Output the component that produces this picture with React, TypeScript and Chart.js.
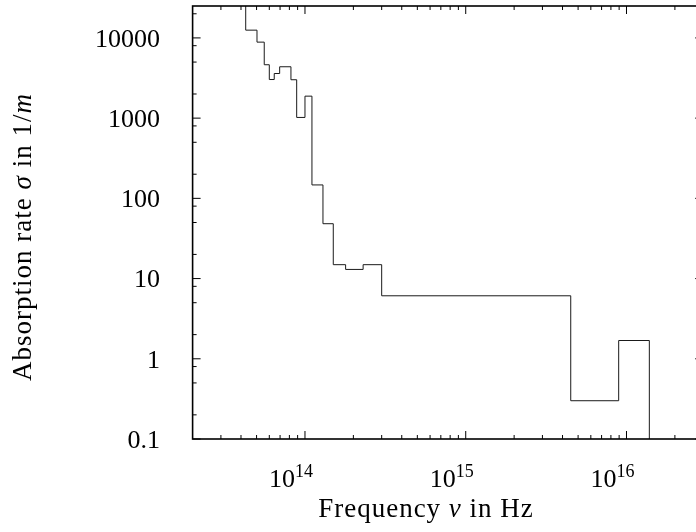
import React, { useEffect, useRef } from "react";
import { Chart, registerables } from "chart.js";

Chart.register(...registerables);

// Bin left edges (Hz); the last entry is the right edge of the last bin
const binEdges = [
  4.28e13, 5.03e13, 5.58e13, 6.0e13, 6.44e13, 6.96e13, 8.18e13, 8.88e13, 1.0e14,
  1.105e14, 1.294e14, 1.5e14, 1.79e14, 2.3e14, 3.0e14, 4.5e15, 8.94e15, 1.387e16,
];
// Absorption rate in each bin (1/m)
const absorption = [
  12500, 8860, 4630, 3030, 3600, 4370, 3010, 1020, 1880, 147, 48.3, 14.9, 13.0, 14.9,
  6.1, 0.3, 1.69,
];
const leadInValue = 1e6; // step enters from above the plotted range
const tailValue = 1e-3; // step drops below the plotted range

const xRange = [2e13, 3e16];
const yRange = [0.1, 25000];
const xMajorTicks = [1e14, 1e15, 1e16];
const xMajorExponents = ["14", "15", "16"];
const xMinorMultipliers = [2, 3, 4, 5, 6, 7, 8, 9];
const yMajorTicks = [0.1, 1, 10, 100, 1000, 10000];
const yMajorLabels = ["0.1", "1", "10", "100", "1000", "10000"];
const yMinorMultipliers = [2, 5, 8];

const SERIF = "'Liberation Serif', 'Times New Roman', serif";
const LABEL_FONT = `26px ${SERIF}`;
const SUP_FONT = `18px ${SERIF}`;
const TITLE_FONT = `27px ${SERIF}`;
const TITLE_ITALIC = `italic 27px ${SERIF}`;

type Run = { text: string; font: string; dy?: number };

function drawRuns(
  ctx: CanvasRenderingContext2D,
  runs: Run[],
  x: number,
  y: number,
  align: "left" | "center" | "right"
) {
  let total = 0;
  const widths = runs.map((r) => {
    ctx.font = r.font;
    const w = ctx.measureText(r.text).width;
    total += w;
    return w;
  });
  let cx = align === "left" ? x : align === "center" ? x - total / 2 : x - total;
  ctx.textAlign = "left";
  runs.forEach((r, i) => {
    ctx.font = r.font;
    ctx.fillText(r.text, cx, y + (r.dy || 0));
    cx += widths[i];
  });
}

function minorValues(min: number, max: number, mults: number[]) {
  const out: number[] = [];
  for (let e = Math.floor(Math.log10(min)) - 1; e <= Math.ceil(Math.log10(max)); e++) {
    mults.forEach((m) => {
      const v = m * Math.pow(10, e);
      if (v > min && v < max) out.push(v);
    });
  }
  return out;
}

const axisPlugin = {
  id: "gnuplotAxes",
  afterDraw(chart: any) {
    const ctx: any = chart.ctx;
    const { left, right, top, bottom } = chart.chartArea;
    const xs = chart.scales.x;
    const ys = chart.scales.y;
    ctx.save();
    ctx.strokeStyle = "#000";
    ctx.fillStyle = "#000";

    // ticks (inward, mirrored)
    ctx.lineWidth = 1;
    const drawX = (v: number, len: number) => {
      const px = xs.getPixelForValue(v);
      ctx.beginPath();
      ctx.moveTo(px, bottom);
      ctx.lineTo(px, bottom - len);
      ctx.moveTo(px, top);
      ctx.lineTo(px, top + len);
      ctx.stroke();
    };
    const drawY = (v: number, len: number) => {
      const py = ys.getPixelForValue(v);
      ctx.beginPath();
      ctx.moveTo(left, py);
      ctx.lineTo(left + len, py);
      ctx.moveTo(right, py);
      ctx.lineTo(right - len, py);
      ctx.stroke();
    };
    minorValues(xRange[0], xRange[1], xMinorMultipliers).forEach((v) => drawX(v, 4));
    xMajorTicks.forEach((v) => drawX(v, 8));
    minorValues(yRange[0], yRange[1], yMinorMultipliers).forEach((v) => drawY(v, 4));
    yMajorTicks.forEach((v) => drawY(v, 8));

    // border
    ctx.lineWidth = 1.6;
    ctx.strokeRect(left, top, right - left, bottom - top);

    // y tick labels
    ctx.textBaseline = "middle";
    ctx.textAlign = "right";
    ctx.font = LABEL_FONT;
    yMajorTicks.forEach((v, i) => {
      ctx.fillText(yMajorLabels[i], 160, ys.getPixelForValue(v) + 2);
    });

    // x tick labels (10^n)
    ctx.textBaseline = "alphabetic";
    xMajorTicks.forEach((v, i) => {
      const px = xs.getPixelForValue(v);
      drawRuns(
        ctx,
        [
          { text: "10", font: LABEL_FONT },
          { text: xMajorExponents[i], font: SUP_FONT, dy: -10 },
        ],
        px + 8,
        487,
        "right"
      );
    });

    // titles
    ctx.letterSpacing = "1px";
    drawRuns(
      ctx,
      [
        { text: "Frequency ", font: TITLE_FONT },
        { text: "ν", font: TITLE_ITALIC },
        { text: " in Hz", font: TITLE_FONT },
      ],
      426,
      517,
      "center"
    );

    ctx.save();
    ctx.translate(31, 237);
    ctx.rotate(-Math.PI / 2);
    drawRuns(
      ctx,
      [
        { text: "Absorption rate ", font: TITLE_FONT },
        { text: "σ", font: TITLE_ITALIC },
        { text: " in 1/", font: TITLE_FONT },
        { text: "m", font: TITLE_ITALIC },
      ],
      0,
      0,
      "center"
    );
    ctx.restore();
    ctx.letterSpacing = "0px";
    ctx.restore();
  },
};

export default function App() {
  const canvasRef = useRef<HTMLCanvasElement | null>(null);

  useEffect(() => {
    if (!canvasRef.current) return;
    const points: { x: number; y: number }[] = [{ x: binEdges[0], y: leadInValue }];
    absorption.forEach((v, i) => points.push({ x: binEdges[i], y: v }));
    points.push({ x: binEdges[binEdges.length - 1], y: tailValue });

    const chart = new Chart(canvasRef.current, {
      type: "line",
      data: {
        datasets: [
          {
            data: points,
            stepped: "before",
            borderColor: "#1a1a1a",
            borderWidth: 1,
            pointRadius: 0,
            fill: false,
          },
        ],
      },
      options: {
        animation: false,
        responsive: false,
        events: [],
        layout: { padding: { left: 192.6, right: 8.8, top: 6, bottom: 93 } },
        plugins: { legend: { display: false }, tooltip: { enabled: false } },
        scales: {
          x: { type: "logarithmic", min: xRange[0], max: xRange[1], display: false },
          y: { type: "logarithmic", min: yRange[0], max: yRange[1], display: false },
        },
      },
      plugins: [axisPlugin],
    } as any);
    return () => chart.destroy();
  }, []);

  return (
    <div
      style={{
        position: "absolute",
        left: 0,
        top: 0,
        width: 696,
        height: 532,
        overflow: "hidden",
        background: "#fff",
      }}
    >
      <canvas ref={canvasRef} width={712} height={532} style={{ display: "block" }} />
    </div>
  );
}
